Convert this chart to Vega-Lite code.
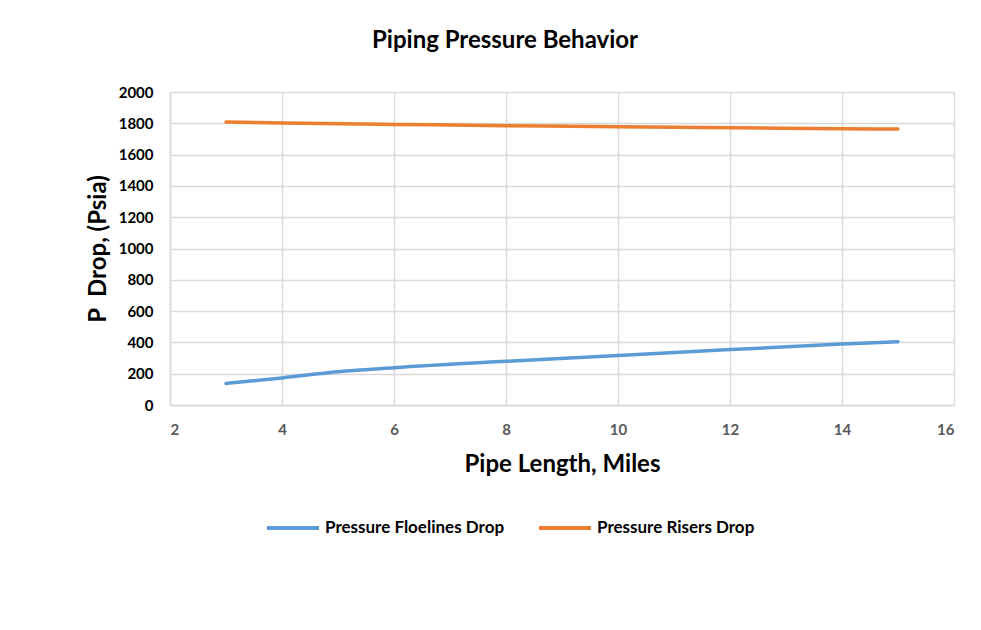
{
  "$schema": "https://vega.github.io/schema/vega-lite/v6.json",
  "width": 784,
  "height": 313,
  "autosize": {"type": "none"},
  "padding": {"left": 170, "top": 92, "right": 27, "bottom": 225},
  "background": "white",
  "title": {"text": "Piping Pressure Behavior", "font": "Lato", "fontSize": 24, "fontWeight": "bold", "color": "#000000", "anchor": "middle", "offset": 32, "dx": -57},
  "data": {"values": [
    {"x": 3, "y": 138, "s": "Pressure Floelines Drop"},
    {"x": 4, "y": 173, "s": "Pressure Floelines Drop"},
    {"x": 5, "y": 212, "s": "Pressure Floelines Drop"},
    {"x": 6, "y": 238, "s": "Pressure Floelines Drop"},
    {"x": 8, "y": 279, "s": "Pressure Floelines Drop"},
    {"x": 10, "y": 316, "s": "Pressure Floelines Drop"},
    {"x": 12, "y": 354, "s": "Pressure Floelines Drop"},
    {"x": 14, "y": 389, "s": "Pressure Floelines Drop"},
    {"x": 15, "y": 404, "s": "Pressure Floelines Drop"},
    {"x": 3, "y": 1809, "s": "Pressure Risers Drop"},
    {"x": 4, "y": 1802, "s": "Pressure Risers Drop"},
    {"x": 6, "y": 1793, "s": "Pressure Risers Drop"},
    {"x": 8, "y": 1785, "s": "Pressure Risers Drop"},
    {"x": 10, "y": 1778, "s": "Pressure Risers Drop"},
    {"x": 12, "y": 1772, "s": "Pressure Risers Drop"},
    {"x": 14, "y": 1765, "s": "Pressure Risers Drop"},
    {"x": 15, "y": 1763, "s": "Pressure Risers Drop"}
  ]},
  "mark": {"type": "line", "strokeWidth": 3.5, "interpolate": "monotone", "strokeCap": "round"},
  "encoding": {
    "x": {"field": "x", "type": "quantitative", "scale": {"domain": [2, 16], "nice": false, "zero": false},
      "axis": {"title": "Pipe Length, Miles", "values": [2,4,6,8,10,12,14,16], "format": "d", "titleFont": "Lato", "titleFontSize": 24, "titleFontWeight": "bold", "titleColor": "#000000", "titlePadding": 15,
        "labelFont": "Lato", "labelFontSize": 15, "labelFontWeight": "bold", "labelColor": "#595959", "labelPadding": 17, "ticks": false,
        "domainColor": "#d9d9d9", "domainWidth": 1.5, "gridColor": "#d9d9d9", "gridWidth": 1.5}},
    "y": {"field": "y", "type": "quantitative", "scale": {"domain": [0, 2000], "nice": false},
      "axis": {"title": "P\u00a0 Drop, (Psia)", "values": [0,200,400,600,800,1000,1200,1400,1600,1800,2000], "format": "d", "titleFont": "Lato", "titleFontSize": 24, "titleFontWeight": "bold", "titleColor": "#000000", "titlePadding": 8,
        "labelFont": "Lato", "labelFontSize": 15, "labelFontWeight": "bold", "labelColor": "#000000", "labelPadding": 17, "ticks": false,
        "domainColor": "#d9d9d9", "domainWidth": 1.5, "gridColor": "#d9d9d9", "gridWidth": 1.5}},
    "color": {"field": "s", "type": "nominal", "scale": {"domain": ["Pressure Floelines Drop", "Pressure Risers Drop"], "range": ["#5b9bd5", "#ed7d31"]},
      "legend": {"title": null, "orient": "none", "legendX": 95, "legendY": 408, "direction": "horizontal", "symbolType": "stroke", "symbolSize": 2700, "symbolStrokeWidth": 4,
        "labelFont": "Lato", "labelFontSize": 17, "labelFontWeight": "bold", "labelColor": "#000000", "labelLimit": 400, "columnPadding": 26, "labelOffset": 4}}
  },
  "config": {"view": {"stroke": null}}
}
